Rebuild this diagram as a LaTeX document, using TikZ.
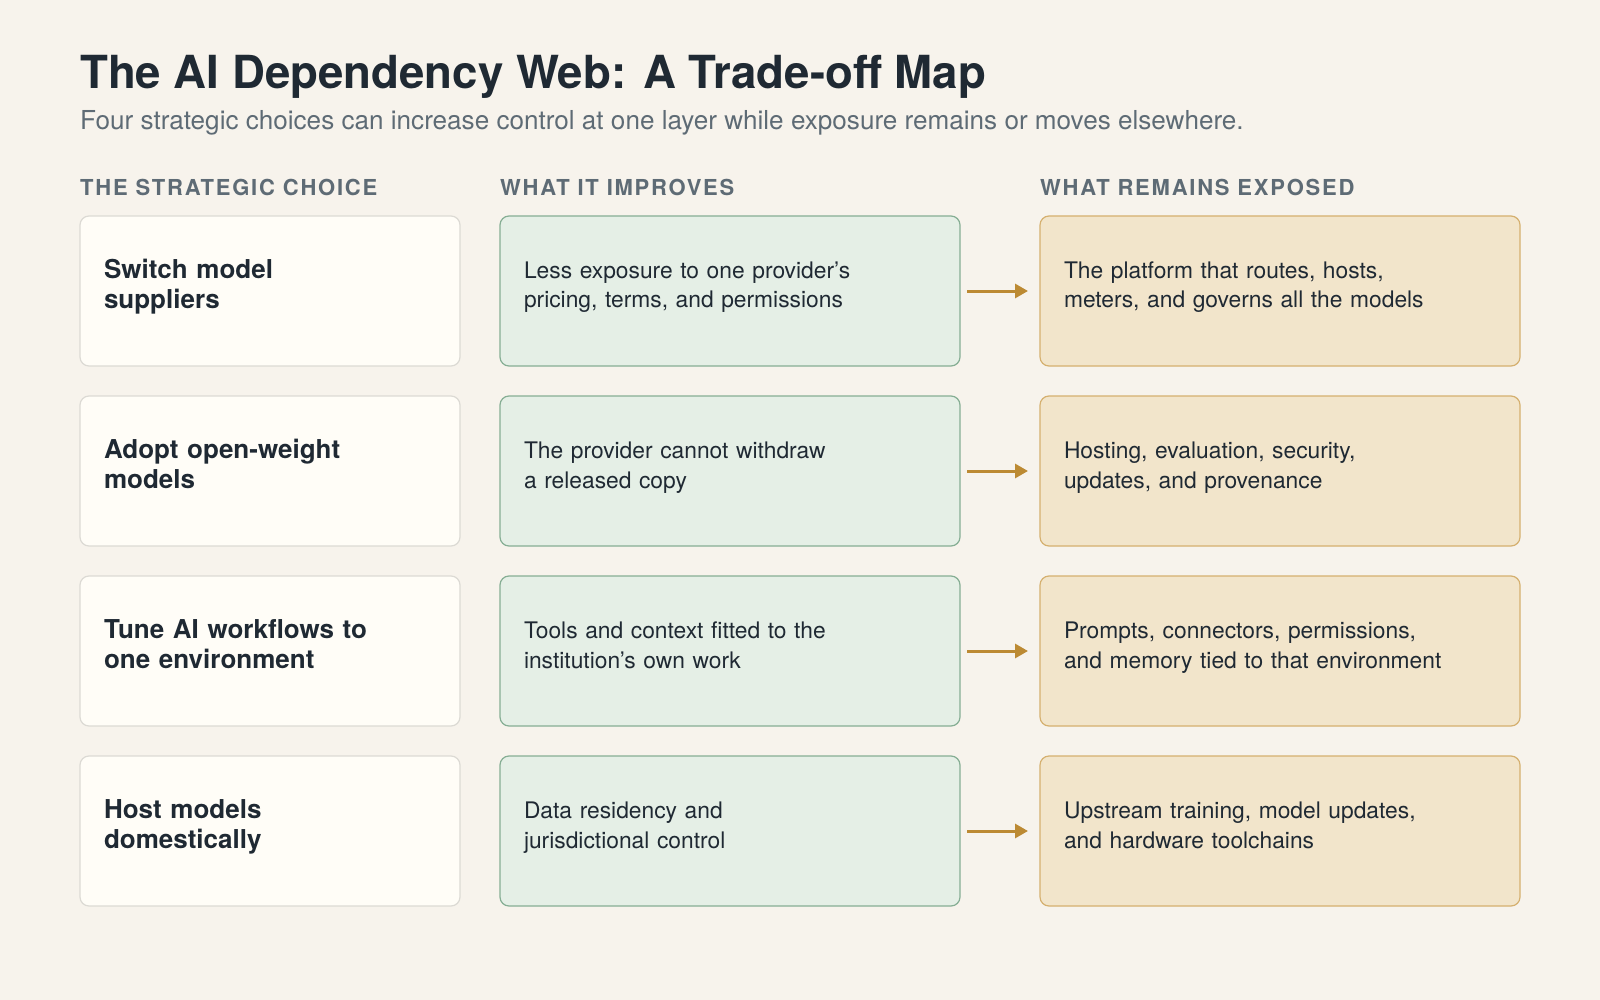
\documentclass[tikz,border=0pt]{standalone}
\usepackage{fontspec}
\setmainfont{TeX Gyre Heros}
\usetikzlibrary{positioning,arrows.meta}
\definecolor{paper}{HTML}{F7F3EC}
\definecolor{ink}{HTML}{1F2933}
\definecolor{slate}{HTML}{5E6B75}
\definecolor{cream}{HTML}{FFFDF7}
\definecolor{creamline}{HTML}{DCDAD4}
\definecolor{sage}{HTML}{E5EFE6}
\definecolor{sageline}{HTML}{86AE94}
\definecolor{sand}{HTML}{F2E5CB}
\definecolor{sandline}{HTML}{D5B06F}
\definecolor{ochre}{HTML}{BC8A33}
\newcommand\mapttl{\fontsize{45.6}{54}\selectfont\bfseries}
\newcommand\mapsub{\fontsize{26.1}{31}\selectfont}
\newcommand\maphd{\fontsize{22}{26}\selectfont\bfseries\addfontfeatures{LetterSpace=8}}
\newcommand\mapchoice{\fontsize{26}{30}\selectfont\bfseries}
\newcommand\mapbody{\fontsize{22.8}{29.6}\selectfont}

\begin{document}
\begin{tikzpicture}[x=1pt,y=-1pt,
      card/.style={rounded corners=9pt,line width=1.2pt,align=left,outer sep=0pt,
                   inner xsep=24pt,inner ysep=0pt,minimum height=150pt,
                   text=ink,font=\mapbody,text height=20pt,text depth=45.2pt},
      choice/.style={card,draw=creamline,fill=cream,text width=332pt,
                     font=\mapchoice,text depth=45pt},
      gain/.style={card,draw=sageline,fill=sage,text width=412pt},
      risk/.style={card,draw=sandline,fill=sand,text width=432pt},
      head/.style={anchor=base west,inner sep=0pt,text=slate,font=\maphd},
      fl/.style={-{Triangle[length=13pt,width=14pt]},draw=ochre,line width=3pt,
                 shorten <=7pt,shorten >=12pt}]
    \fill[paper] (0,0) rectangle (1600,1000);
    \useasboundingbox (0,0) rectangle (1600,1000);
    \node[anchor=base west,inner sep=0pt,text=ink,font=\mapttl] (title) at (80,89)
      {The AI Dependency Web: A Trade-off Map};
    \node[anchor=base west,inner sep=0pt,text=slate,font=\mapsub] (sub) at (80,130)
      {Four strategic choices can increase control at one layer while exposure remains or moves elsewhere.};
    \node[head] (h1) at (80,196) {THE STRATEGIC CHOICE};
    \node[head] (h2) at (500,196) {WHAT IT IMPROVES};
    \node[head] (h3) at (1040,196) {WHAT REMAINS EXPOSED};
    % row 1
    \node[choice,anchor=north west] (c1) at (80,216) {Switch model\\ suppliers};
    \node[gain,right=40pt of c1] (g1) {Less exposure to one provider’s\\ pricing, terms, and permissions};
    \node[risk,right=80pt of g1] (r1) {The platform that routes, hosts,\\ meters, and governs all the models};
    % row 2
    \node[choice,below=30pt of c1] (c2) {Adopt open-weight\\ models};
    \node[gain,right=40pt of c2] (g2) {The provider cannot withdraw\\ a released copy};
    \node[risk,right=80pt of g2] (r2) {Hosting, evaluation, security,\\ updates, and provenance};
    % row 3
    \node[choice,below=30pt of c2] (c3) {Tune AI workflows to\\ one environment};
    \node[gain,right=40pt of c3] (g3) {Tools and context fitted to the\\ institution’s own work};
    \node[risk,right=80pt of g3] (r3) {Prompts, connectors, permissions,\\ and memory tied to that environment};
    % row 4
    \node[choice,below=30pt of c3] (c4) {Host models\\ domestically};
    \node[gain,right=40pt of c4] (g4) {Data residency and\\ jurisdictional control};
    \node[risk,right=80pt of g4] (r4) {Upstream training, model updates,\\ and hardware toolchains};
    \foreach \i in {1,...,4} \draw[fl] (g\i) -- (r\i);
  \end{tikzpicture}
\end{document}
